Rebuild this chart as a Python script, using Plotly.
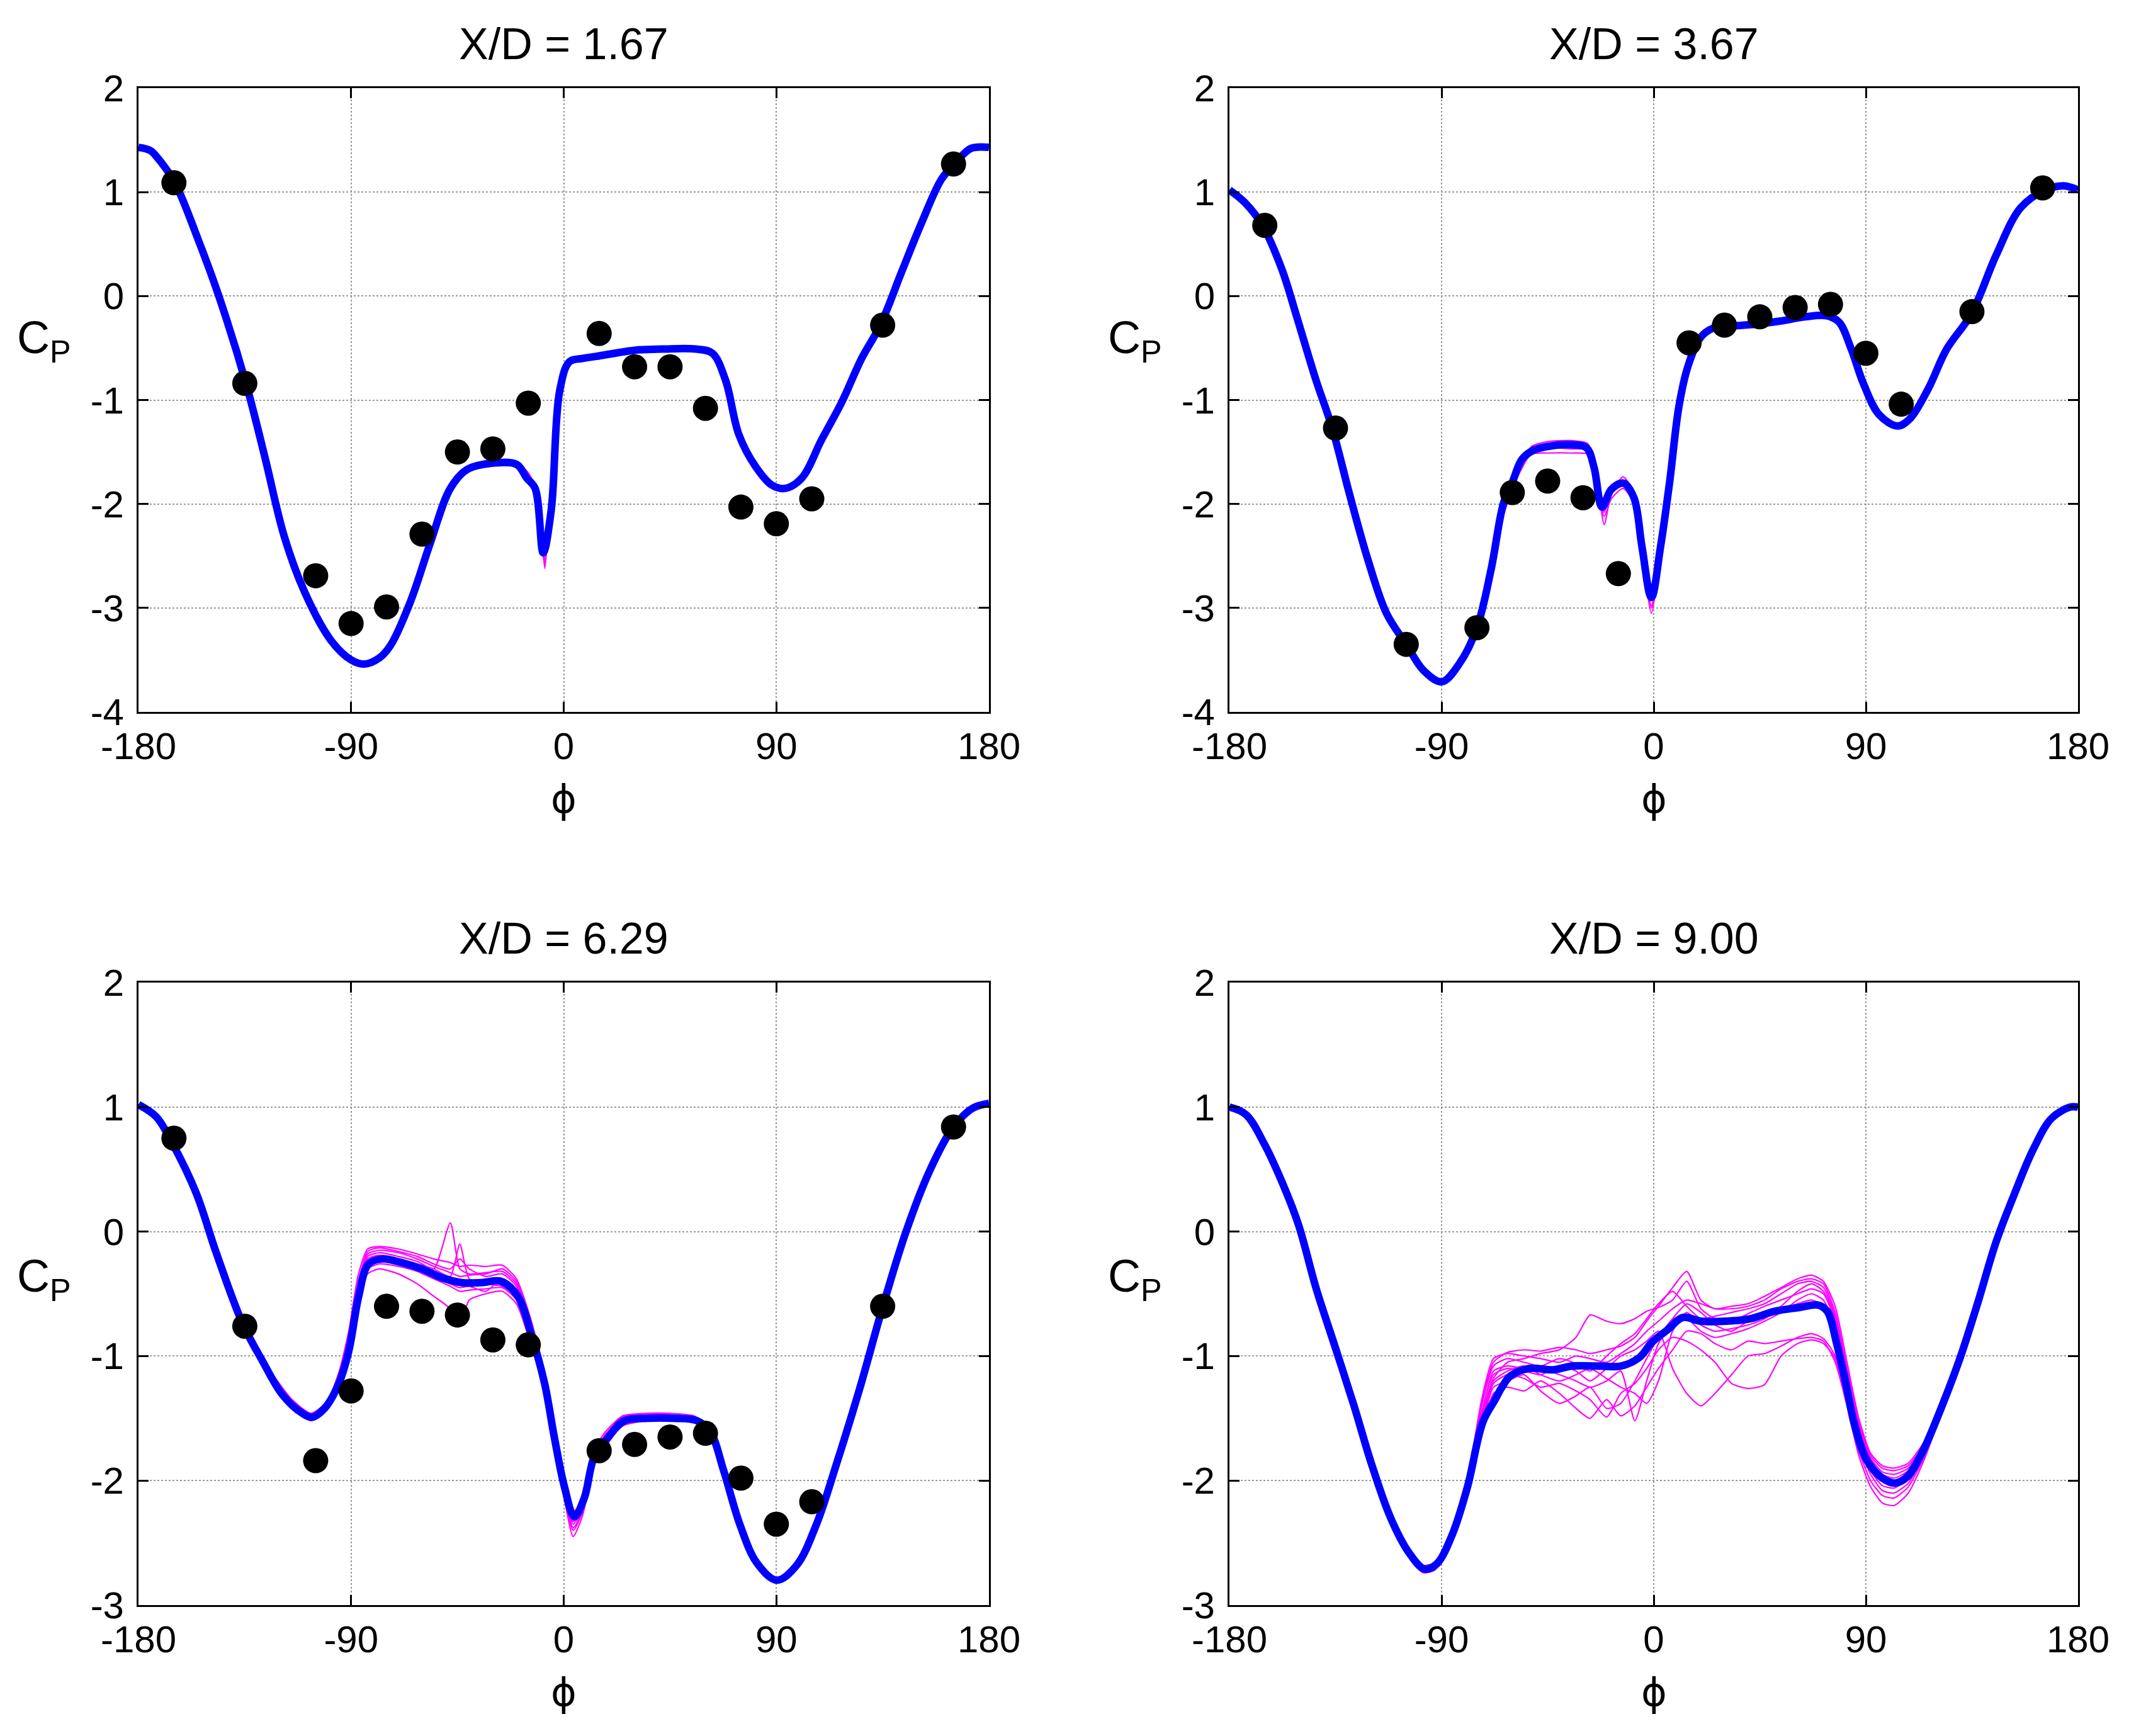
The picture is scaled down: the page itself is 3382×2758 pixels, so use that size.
import plotly.graph_objects as go

W, H = 3382, 2758
OFF = 8  # page body margin of the html page
FONT = "Liberation Sans, Arial, sans-serif"

titles = ["X/D = 1.67", "X/D = 3.67", "X/D = 6.29", "X/D = 9.00"]
x_ticks = [-180, -90, 0, 90, 180]
x_ticktext = ["-180", "-90", "0", "90", "180"]
y_ticks_top = [-4, -3, -2, -1, 0, 1, 2]
y_ticks_bot = [-3, -2, -1, 0, 1, 2]

# ---------- Panel 1 : X/D = 1.67 ----------
p1_phi = [-180, -175, -171.6, -164.6, -154.7, -146.3, -134.5, -126.6, -118.2, -109.8, -98.6, -90, -84.5, -78,
          -73.3, -64.9, -56.4, -48, -41, -31.2, -19.9, -15.7, -12.1, -8.7, -5.3, -1.7, 2.5, 8.2, 13.8, 30.6,
          41.8, 55.9, 62.9, 68.5, 74.1, 81.2, 88.2, 93.8, 100.8, 109.2, 117.7, 126.1, 134, 143, 151.4,
          159.8, 165.4, 172.4, 180]
p1_cp = [1.43, 1.40, 1.32, 1.09, 0.54, 0.02, -0.84, -1.54, -2.32, -2.84, -3.31, -3.50, -3.54, -3.48,
         -3.36, -2.94, -2.37, -1.85, -1.67, -1.61, -1.62, -1.75, -1.85, -2.47, -2.06, -0.91, -0.63, -0.60,
         -0.58, -0.52, -0.51, -0.51, -0.55, -0.81, -1.33, -1.64, -1.82, -1.85, -1.75, -1.38, -1.02, -0.60,
         -0.28, 0.23, 0.70, 1.12, 1.27, 1.42, 1.43]
p1_m_phi = [-30, -20, -15, -12, -9, -8, -6, -3, 0, 5, 10]
p1_m1 = [-1.61, -1.62, -1.72, -1.86, -2.40, -2.62, -2.10, -1.20, -0.75, -0.62, -0.60]
p1_m2 = [-1.60, -1.60, -1.70, -1.84, -2.35, -2.55, -2.05, -1.15, -0.72, -0.61, -0.60]
p1_m3 = [-1.62, -1.63, -1.76, -1.88, -2.45, -2.58, -2.00, -1.10, -0.70, -0.62, -0.59]
p1_exp_phi = [-165, -135, -105, -90, -75, -60, -45, -30, -15, 15, 30, 45, 60, 75, 90, 105, 135, 165]
p1_exp_cp = [1.09, -0.84, -2.69, -3.15, -2.99, -2.29, -1.50, -1.47, -1.03, -0.36, -0.68, -0.68, -1.08,
             -2.03, -2.19, -1.95, -0.28, 1.27]

# ---------- Panel 2 : X/D = 3.67 ----------
p2_phi = [-180, -173.5, -166, -157.8, -151.3, -143.4, -136.4, -129, -121.2, -113.4, -105, -97.7, -89.9, -82,
          -75, -69, -63.7, -59.8, -55.9, -50.7, -42.9, -35, -28.5, -25.3, -21.9, -18, -12.8, -8.4, -5, -1,
          2.9, 6.8, 10.7, 14.6, 19.8, 25.1, 32.9, 43.4, 53.8, 64.3, 73.4, 78.6, 83.8, 89.1, 95.6, 103.4,
          108.7, 116.5, 124.3, 134.8, 145.2, 155.7, 166.1, 174, 180]
p2_cp = [1.02, 0.90, 0.68, 0.26, -0.21, -0.80, -1.27, -1.91, -2.54, -3.05, -3.35, -3.60, -3.71, -3.52,
         -3.19, -2.63, -1.99, -1.78, -1.57, -1.48, -1.44, -1.43, -1.46, -1.65, -2.03, -1.86, -1.80, -1.94,
         -2.41, -2.90, -2.41, -1.78, -1.06, -0.67, -0.40, -0.31, -0.29, -0.27, -0.24, -0.20, -0.19, -0.25,
         -0.51, -0.85, -1.14, -1.25, -1.18, -0.89, -0.51, -0.17, 0.39, 0.85, 1.02, 1.06, 1.02]
p2_m_phi = [-65, -58, -52, -45, -35, -28, -25, -21, -18, -13, -8, -5, -1, 3, 7, 12]
p2_m1 = [-2.20, -1.72, -1.45, -1.40, -1.39, -1.42, -1.62, -2.20, -1.90, -1.74, -1.90, -2.45, -3.05, -2.45, -1.80, -0.95]
p2_m2 = [-2.15, -1.75, -1.52, -1.51, -1.51, -1.52, -1.72, -2.12, -1.95, -1.85, -2.00, -2.45, -2.98, -2.40, -1.75, -0.98]
p2_m3 = [-2.10, -1.70, -1.48, -1.46, -1.47, -1.48, -1.66, -2.08, -1.82, -1.77, -1.92, -2.40, -3.00, -2.42, -1.78, -1.00]
p2_exp_phi = [-165, -135, -105, -75, -60, -45, -30, -15, 15, 30, 45, 60, 75, 90, 105, 135, 165]
p2_exp_cp = [0.68, -1.27, -3.35, -3.19, -1.89, -1.78, -1.94, -2.67, -0.45, -0.28, -0.20, -0.11, -0.08,
             -0.55, -1.04, -0.15, 1.04]

# ---------- Panel 3 : X/D = 6.29 ----------
p3_phi = [-180, -172.4, -165.4, -155.6, -147.1, -135.9, -127.5, -119.1, -110.6, -106.4, -100.8, -95.2, -91,
          -86.8, -82.6, -76.9, -68.5, -60.1, -51.7, -43.2, -34.8, -26.4, -19.4, -13.7, -8.1, -3.9, 0.3, 4.5,
          8.7, 12.9, 18.5, 25.6, 35.4, 46.6, 56.5, 62.1, 67.7, 74.7, 81.7, 90.2, 98.6, 107, 115.4, 125.3,
          135.1, 144.9, 154.7, 164.6, 173, 180]
p3_cp = [1.02, 0.92, 0.70, 0.31, -0.17, -0.74, -1.04, -1.31, -1.46, -1.49, -1.41, -1.22, -0.96, -0.52,
         -0.26, -0.22, -0.25, -0.30, -0.37, -0.41, -0.41, -0.40, -0.52, -0.83, -1.22, -1.66, -2.05, -2.29,
         -2.14, -1.81, -1.66, -1.52, -1.50, -1.50, -1.52, -1.61, -1.92, -2.36, -2.66, -2.80, -2.68, -2.35,
         -1.87, -1.26, -0.60, 0.00, 0.48, 0.83, 0.99, 1.03]
p3_m_phi = [-125, -115, -107, -100, -95, -91, -87, -83, -78, -70, -62, -55, -48, -44, -40, -33, -26, -20,
            -14, -8, -4, 0, 4, 8, 13, 18, 25, 35, 45, 55, 62, 68]
p3_m1 = [-1.10, -1.35, -1.46, -1.36, -1.12, -0.80, -0.35, -0.14, -0.12, -0.14, -0.18, -0.22, -0.25, -0.28, -0.27, -0.28,
         -0.27, -0.38, -0.70, -1.15, -1.60, -2.00, -2.25, -2.15, -1.75, -1.60, -1.48, -1.46, -1.46, -1.48, -1.58, -1.90]
p3_m2 = [-1.13, -1.40, -1.52, -1.43, -1.25, -1.00, -0.60, -0.30, -0.26, -0.28, -0.32, -0.38, -0.44, -0.48, -0.47, -0.46,
         -0.45, -0.55, -0.88, -1.28, -1.70, -2.10, -2.40, -2.25, -1.85, -1.70, -1.56, -1.52, -1.52, -1.53, -1.64, -1.95]
p3_m3 = [-1.12, -1.37, -1.48, -1.39, -1.18, -0.90, -0.45, -0.20, -0.17, -0.20, -0.24, -0.30, 0.07, -0.30, -0.34, -0.33,
         -0.32, -0.42, -0.78, -1.20, -1.63, -2.05, -2.32, -2.20, -1.80, -1.65, -1.50, -1.48, -1.48, -1.50, -1.60, -1.92]
p3_m4 = [-1.11, -1.39, -1.50, -1.41, -1.22, -0.98, -0.58, -0.34, -0.30, -0.34, -0.42, -0.52, -0.62, -0.75, -0.55, -0.50,
         -0.48, -0.58, -0.90, -1.30, -1.72, -2.12, -2.45, -2.28, -1.86, -1.72, -1.55, -1.51, -1.51, -1.52, -1.63, -1.94]
p3_m5 = [-1.10, -1.36, -1.47, -1.37, -1.15, -0.85, -0.40, -0.18, -0.15, -0.17, -0.22, -0.28, -0.33, -0.36, -0.35, -0.34,
         -0.30, -0.40, -0.74, -1.18, -1.62, -2.02, -2.30, -2.18, -1.78, -1.62, -1.49, -1.47, -1.47, -1.49, -1.59, -1.91]
p3_m6 = [-1.14, -1.41, -1.51, -1.42, -1.24, -0.99, -0.55, -0.28, -0.20, -0.22, -0.26, -0.30, -0.36, -0.10, -0.38, -0.42,
         -0.44, -0.52, -0.85, -1.26, -1.68, -2.08, -2.38, -2.24, -1.83, -1.68, -1.54, -1.50, -1.50, -1.52, -1.62, -1.94]
p3_m7 = [-1.12, -1.38, -1.49, -1.40, -1.20, -0.93, -0.48, -0.22, -0.19, -0.22, -0.30, -0.36, -0.42, -0.45, -0.44, -0.48,
         -0.38, -0.47, -0.80, -1.22, -1.66, -2.06, -2.35, -2.22, -1.82, -1.66, -1.52, -1.49, -1.49, -1.51, -1.61, -1.93]
p3_m8 = [-1.11, -1.37, -1.48, -1.38, -1.17, -0.88, -0.42, -0.16, -0.13, -0.16, -0.20, -0.26, -0.30, -0.22, -0.30, -0.36,
         -0.34, -0.44, -0.76, -1.19, -1.64, -2.04, -2.33, -2.20, -1.79, -1.64, -1.51, -1.48, -1.48, -1.50, -1.60, -1.92]
p3_exp_phi = [-165, -135, -105, -90, -75, -60, -45, -30, -15, 15, 30, 45, 60, 75, 90, 105, 135, 165]
p3_exp_cp = [0.75, -0.76, -1.84, -1.28, -0.60, -0.64, -0.67, -0.87, -0.91, -1.76, -1.71, -1.65, -1.62,
             -1.98, -2.35, -2.17, -0.60, 0.84]

# ---------- Panel 4 : X/D = 9.00 ----------
p4_phi = [-180, -173, -165.1, -157.3, -150.8, -143, -135.1, -127.3, -119.5, -111.6, -103.8, -97.3, -92.1,
          -85.6, -79, -72.5, -67.3, -64.7, -60.8, -52.9, -42.5, -34.7, -24.2, -13.8, -6, -0.8, 5.8, 12.3,
          20.1, 30.5, 41, 51.4, 61.8, 69.7, 73.6, 77.5, 81.4, 85.3, 90.5, 97, 102.3, 107.5, 114, 121.9,
          129.7, 137.5, 145.3, 153.2, 161, 168.8, 176.7, 180]
p4_cp = [1.00, 0.94, 0.70, 0.38, 0.06, -0.47, -0.93, -1.39, -1.88, -2.30, -2.58, -2.71, -2.67, -2.44,
         -2.05, -1.53, -1.35, -1.26, -1.16, -1.10, -1.11, -1.08, -1.08, -1.08, -1.01, -0.89, -0.79, -0.69,
         -0.72, -0.72, -0.70, -0.64, -0.61, -0.59, -0.64, -0.89, -1.21, -1.56, -1.84, -1.98, -2.02, -1.97,
         -1.77, -1.42, -1.03, -0.57, -0.08, 0.31, 0.66, 0.91, 1.00, 1.00]
p4_m_phi = [-115, -105, -98, -93, -88, -83, -78, -73, -68, -62, -55, -48, -40, -33, -27, -20, -14, -8, -3,
            2, 8, 14, 20, 26, 33, 40, 47, 54, 61, 67, 72, 77, 82, 87, 92, 97, 102, 108, 115, 122]
p4_m1 = [-2.10, -2.55, -2.72, -2.72, -2.55, -2.28, -1.90, -1.38, -1.05, -0.97, -0.95, -0.96, -0.93, -0.95, -0.98, -0.95,
         -0.92, -0.85, -0.72, -0.60, -0.45, -0.32, -0.55, -0.62, -0.60, -0.58, -0.52, -0.45, -0.38, -0.35, -0.40, -0.60,
         -1.05, -1.50, -1.78, -1.88, -1.90, -1.86, -1.68, -1.40]
p4_m2 = [-2.14, -2.58, -2.74, -2.72, -2.58, -2.34, -2.05, -1.62, -1.30, -1.25, -1.28, -1.20, -1.30, -1.42, -1.50, -1.35,
         -1.48, -1.40, -1.25, -1.10, -0.95, -0.80, -0.82, -0.90, -0.95, -0.88, -0.90, -0.88, -0.86, -0.85, -0.88, -1.05,
         -1.40, -1.80, -2.05, -2.18, -2.20, -2.10, -1.82, -1.45]
p4_m3 = [-2.12, -2.56, -2.71, -2.69, -2.54, -2.30, -1.98, -1.50, -1.18, -1.05, -1.02, -0.98, -0.95, -0.85, -0.67, -0.72,
         -0.74, -0.70, -0.64, -0.61, -0.55, -0.40, -0.62, -0.70, -0.72, -0.66, -0.60, -0.55, -0.50, -0.46, -0.50, -0.72,
         -1.15, -1.58, -1.84, -1.95, -1.98, -1.92, -1.72, -1.42]
p4_m4 = [-2.11, -2.55, -2.70, -2.69, -2.52, -2.25, -1.92, -1.45, -1.15, -1.10, -1.12, -1.15, -1.08, -1.12, -1.20, -1.10,
         -1.00, -0.95, -0.88, -0.80, -1.10, -1.30, -1.40, -1.30, -1.15, -1.00, -0.98, -0.92, -0.85, -0.82, -0.86, -1.00,
         -1.35, -1.72, -1.95, -2.08, -2.10, -2.02, -1.78, -1.44]
p4_m5 = [-2.13, -2.57, -2.72, -2.70, -2.56, -2.32, -2.00, -1.55, -1.22, -1.15, -1.18, -1.25, -1.22, -1.28, -1.35, -1.49,
         -1.30, -1.22, -1.10, -0.95, -0.85, -0.88, -0.95, -1.05, -1.22, -1.26, -1.23, -1.00, -0.90, -0.87, -0.90, -1.02,
         -1.38, -1.76, -2.00, -2.12, -2.14, -2.05, -1.80, -1.44]
p4_m6 = [-2.10, -2.54, -2.68, -2.66, -2.50, -2.24, -1.88, -1.35, -1.02, -0.98, -1.00, -1.02, -1.05, -1.00, -1.02, -1.05,
         -0.98, -0.90, -0.80, -0.72, -0.62, -0.55, -0.58, -0.62, -0.62, -0.60, -0.55, -0.46, -0.40, -0.38, -0.42, -0.65,
         -1.10, -1.52, -1.80, -1.90, -1.92, -1.88, -1.70, -1.40]
p4_m7 = [-2.12, -2.56, -2.70, -2.68, -2.53, -2.28, -1.95, -1.48, -1.12, -1.08, -1.10, -1.10, -1.15, -1.20, -1.25, -1.20,
         -1.12, -1.52, -1.20, -0.90, -0.75, -0.70, -0.80, -0.85, -0.82, -0.78, -0.72, -0.65, -0.55, -0.50, -0.55, -0.78,
         -1.20, -1.62, -1.88, -2.00, -2.03, -1.96, -1.75, -1.42]
p4_m8 = [-2.13, -2.57, -2.73, -2.71, -2.57, -2.33, -2.02, -1.58, -1.25, -1.20, -1.15, -1.28, -1.38, -1.32, -1.25, -1.42,
         -1.38, -1.20, -1.02, -0.85, -0.70, -0.58, -0.65, -0.75, -0.80, -0.72, -0.68, -0.62, -0.58, -0.55, -0.60, -0.82,
         -1.25, -1.66, -1.92, -2.04, -2.06, -1.98, -1.76, -1.43]
p4_m9 = [-2.11, -2.55, -2.69, -2.67, -2.51, -2.26, -1.90, -1.40, -1.08, -1.02, -1.05, -1.08, -1.02, -1.06, -1.12, -1.00,
         -0.90, -0.82, -0.70, -0.58, -0.48, -0.60, -0.70, -0.68, -0.65, -0.62, -0.58, -0.50, -0.42, -0.40, -0.45, -0.68,
         -1.12, -1.55, -1.82, -1.93, -1.95, -1.90, -1.71, -1.41]
p4_m10 = [-2.12, -2.56, -2.71, -2.70, -2.55, -2.30, -1.96, -1.52, -1.20, -1.12, -1.08, -1.15, -1.20, -1.15, -1.10, -1.18,
          -1.25, -1.30, -1.38, -1.20, -0.80, -0.65, -0.75, -0.80, -0.78, -0.75, -0.70, -0.60, -0.48, -0.42, -0.48, -0.70,
          -1.18, -1.60, -1.86, -1.98, -2.00, -1.94, -1.74, -1.42]

panels = [
    dict(phi=p1_phi, cp=p1_cp, m_phi=p1_m_phi, m=[p1_m1, p1_m2, p1_m3], e_phi=p1_exp_phi, e_cp=p1_exp_cp),
    dict(phi=p2_phi, cp=p2_cp, m_phi=p2_m_phi, m=[p2_m1, p2_m2, p2_m3], e_phi=p2_exp_phi, e_cp=p2_exp_cp),
    dict(phi=p3_phi, cp=p3_cp, m_phi=p3_m_phi, m=[p3_m1, p3_m2, p3_m3, p3_m4, p3_m5, p3_m6, p3_m7, p3_m8],
         e_phi=p3_exp_phi, e_cp=p3_exp_cp),
    dict(phi=p4_phi, cp=p4_cp, m_phi=p4_m_phi, m=[p4_m1, p4_m2, p4_m3, p4_m4, p4_m5, p4_m6, p4_m7, p4_m8, p4_m9, p4_m10],
         e_phi=None, e_cp=None),
]

# axes boxes in screen pixels (left, right, top, bottom)
boxes = [(220, 1571, 140, 1131), (1953, 3301, 140, 1131),
         (220, 1571, 1561, 2550), (1953, 3301, 1561, 2550)]


def px(v):
    return (v - OFF) / W


def py(v):
    return 1 - (v - OFF) / H


fig = go.Figure()
layout = dict(template="none", width=W, height=H, margin=dict(l=0, r=0, t=0, b=0, pad=0, autoexpand=False),
              paper_bgcolor="white", plot_bgcolor="white", showlegend=False,
              font=dict(family=FONT, color="black"))
annotations = []

for i, (p, b) in enumerate(zip(panels, boxes)):
    n = "" if i == 0 else str(i + 1)
    xa, ya = "x" + n, "y" + n
    for mv in p["m"]:
        fig.add_trace(go.Scatter(x=p["m_phi"], y=mv, mode="lines", xaxis=xa, yaxis=ya,
                                 line=dict(color="#FF00FF", width=2.2, shape="spline", smoothing=0.6),
                                 hoverinfo="skip"))
    fig.add_trace(go.Scatter(x=p["phi"], y=p["cp"], mode="lines", xaxis=xa, yaxis=ya,
                             line=dict(color="#0000FF", width=12, shape="spline", smoothing=1.0)))
    if p["e_phi"] is not None:
        fig.add_trace(go.Scatter(x=p["e_phi"], y=p["e_cp"], mode="markers", xaxis=xa, yaxis=ya,
                                 marker=dict(color="black", size=40, line=dict(width=0))))
    l, r, t, btm = b
    top_row = i < 2
    yt = y_ticks_top if top_row else y_ticks_bot
    axis_common = dict(showline=True, linecolor="black", linewidth=3, mirror="ticks",
                       ticks="inside", ticklen=16, tickwidth=3, tickcolor="black", automargin=False,
                       showgrid=True, gridcolor="#9a9a9a", gridwidth=2, griddash="dot",
                       zeroline=False, tickfont=dict(family=FONT, size=60, color="black"))
    layout["xaxis" + n] = dict(domain=[px(l), px(r)], range=[-180, 180], tickvals=x_ticks,
                               ticktext=x_ticktext, anchor=ya, ticklabelstandoff=0, **axis_common)
    layout["yaxis" + n] = dict(domain=[py(btm), py(t)], range=[yt[0], yt[-1]], tickvals=yt,
                               ticktext=[str(v) for v in yt], anchor=xa,
                               ticklabelstandoff=8, **axis_common)
    cx = (l + r) / 2
    annotations.append(dict(text=titles[i], x=px(cx), y=py(t - 70), xref="paper", yref="paper",
                            xanchor="center", yanchor="middle", showarrow=False,
                            font=dict(family=FONT, size=70, color="black")))
    annotations.append(dict(text="\u03d5", x=px(cx), y=py(btm + 138), xref="paper", yref="paper",
                            xanchor="center", yanchor="middle", showarrow=False,
                            font=dict(family="DejaVu Sans", size=62, color="black")))
    cp_y = (542 - 140 + t) if top_row else (2032 - 1561 + t)
    annotations.append(dict(text="C<sub>P</sub>", x=px(l - 150), y=py(cp_y), xref="paper", yref="paper",
                            xanchor="center", yanchor="middle", showarrow=False,
                            font=dict(family=FONT, size=72, color="black")))

layout["annotations"] = annotations
fig.update_layout(**layout)
fig.write_html("out.html")
